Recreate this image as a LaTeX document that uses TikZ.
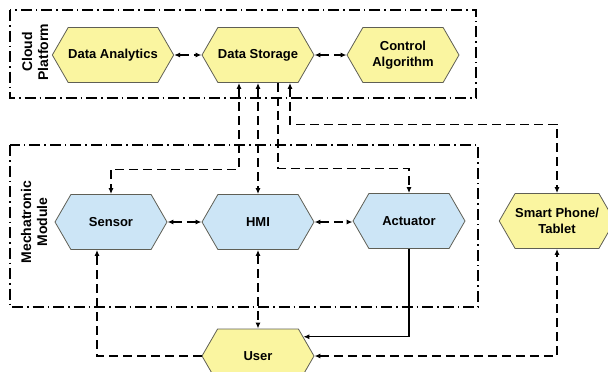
\documentclass[tikz,border=0pt]{standalone}
\usepackage{fontspec}
\setmainfont{Liberation Sans}
\usetikzlibrary{shapes.symbols,arrows.meta,calc}
\definecolor{hexyellow}{RGB}{250,245,160}
\definecolor{hexblue}{RGB}{204,229,246}
\definecolor{hexborder}{RGB}{95,95,85}
\tikzset{
  hexbox/.style={signal, signal to=east and west, signal pointer angle=120,
    draw=hexborder, line width=0.8pt, minimum width=112pt, minimum height=55pt,
    inner sep=0pt, align=center, font=\bfseries\fontsize{13}{16}\selectfont},
  yhex/.style={hexbox, fill=hexyellow},
  bhex/.style={hexbox, fill=hexblue},
  groupbox/.style={draw=black, line width=1.3pt, dash pattern=on 11pt off 4pt on 1.5pt off 4pt},
  grouplabel/.style={rotate=90, align=center, font=\bfseries\fontsize{14}{16}\selectfont},
  dlink/.style={draw=black, line width=1.2pt, dash pattern=on 9pt off 5pt},
  slink/.style={draw=black, line width=1.2pt},
  tip/.style={-{Latex[length=6pt,width=5pt]}},
  tips/.style={{Latex[length=6pt,width=5pt]}-{Latex[length=6pt,width=5pt]}},
  rtip/.style={{Latex[length=6pt,width=5pt]}-}
}
\begin{document}
\begin{tikzpicture}[x=1pt,y=-1pt]
\useasboundingbox (0,0) rectangle (608,372);
\clip (0,0) rectangle (608,372);
% group boxes
\draw[groupbox] (10,10) rectangle (476,98);
\draw[groupbox] (10,145) rectangle (478,307);
\node[grouplabel] (cloudlbl) at (35,52) {Cloud\\Platform};
\node[grouplabel] (mechlbl) at (34,222) {Mechatronic\\Module};
% nodes
\node[yhex] (da) at (113,55) {Data Analytics};
\node[yhex] (ds) at (258,55) {Data Storage};
\node[yhex] (ca) at (403,55) {Control\\Algorithm};
\node[bhex] (sensor) at (111,222) {Sensor};
\node[bhex] (hmi) at (258,222) {HMI};
\node[bhex] (act) at (409,221) {Actuator};
\node[yhex] (sp) at (557,221) {Smart Phone/\\Tablet};
\node[yhex, minimum height=54pt] (user) at (258,356) {User};
% cloud links
\draw[dlink,tips] (da.east) -- (ds.west);
\draw[dlink,tips] (ds.east) -- (ca.west);
% module links
\draw[dlink,tips] (sensor.east) -- (hmi.west);
\draw[dlink,tips] (hmi.east) -- (act.west |- hmi.east);
% storage links
\draw[dlink,tips] ([xshift=-19pt]ds.south) |- ([yshift=25pt]sensor.north) -- (sensor.north);
\draw[dlink,tips] (ds.south) -- (hmi.north);
\draw[dlink,tip] ([xshift=20pt]ds.south) |- ([yshift=25pt]act.north) -- (act.north);
\draw[dlink,tips] ([xshift=32pt]ds.south) |- ([yshift=69pt]sp.north) -- (sp.north);
% user links
\draw[dlink,tip] (user.west) -| ([xshift=-14pt]sensor.south);
\draw[dlink,tips] (hmi.south) -- (user.north);
\draw[slink,tip] (act.south) |- (user.23);
\draw[dlink,tips] (user.east) -| (sp.south);
\end{tikzpicture}
\end{document}
